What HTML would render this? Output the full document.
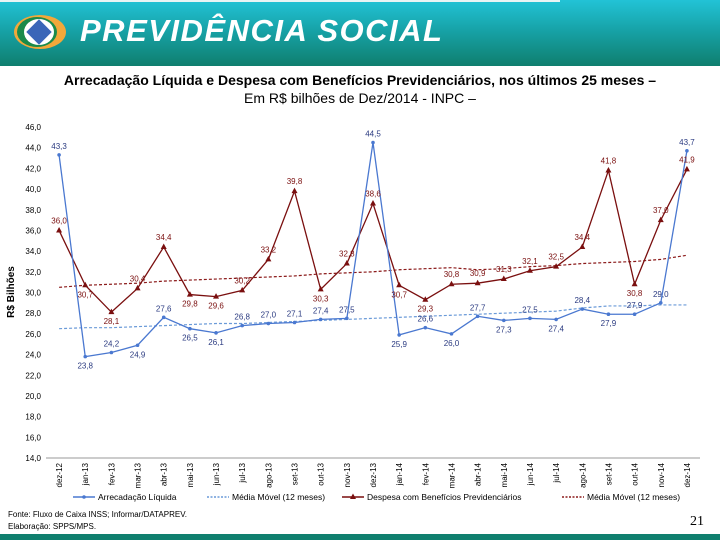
<!DOCTYPE html>
<html><head><meta charset="utf-8"><style>
body{margin:0;width:720px;height:540px;overflow:hidden;background:#fff;font-family:"Liberation Sans",sans-serif;position:relative}
#hdr{position:absolute;left:0;top:0;width:720px;height:66px;background:linear-gradient(#22c3d6 0%,#17a3a8 45%,#0f7f6e 100%)}
#topline{position:absolute;left:0;top:0;width:560px;height:2px;background:#e8f4f4}
#brand{position:absolute;left:80px;top:13px;color:#fff;font-weight:bold;font-style:italic;font-size:31px;letter-spacing:1.5px}
#t1{position:absolute;left:0;width:720px;top:72px;text-align:center;font-size:14px;font-weight:bold;color:#000}
#t2{position:absolute;left:0;width:720px;top:90px;text-align:center;font-size:14px;color:#000}
#foot{position:absolute;left:8px;top:509px;font-size:8px;line-height:12px;color:#000}
#pg{position:absolute;left:690px;top:514px;font-family:"Liberation Serif",serif;font-size:14px}
#bot{position:absolute;left:0;top:534px;width:720px;height:6px;background:#0f7f6e}
</style></head><body>
<div id="hdr"></div>
<div id="topline"></div>
<svg style="position:absolute;left:12px;top:12px" width="62" height="40">
<ellipse cx="28" cy="20" rx="26" ry="17" fill="#f2a83a"/><ellipse cx="25" cy="20" rx="20" ry="15" fill="#1a8a4a"/><ellipse cx="27" cy="20" rx="15" ry="13" fill="#fff"/><rect x="18" y="11" width="18" height="18" fill="#3a66b8" transform="rotate(45 27 20)"/></svg>
<div id="brand">PREVIDÊNCIA SOCIAL</div>
<div id="t1">Arrecadação Líquida e Despesa com Benefícios Previdenciários, nos últimos 25 meses –</div>
<div id="t2">Em R$ bilhões de Dez/2014 - INPC –</div>
<svg id="chart" style="position:absolute;left:0;top:0" width="720" height="540"></svg>
<div id="foot">Fonte: Fluxo de Caixa INSS; Informar/DATAPREV.<br>Elaboração: SPPS/MPS.</div>
<div id="pg">21</div>
<div id="bot"></div>
<script>
const categories=["dez-12","jan-13","fev-13","mar-13","abr-13","mai-13","jun-13","jul-13","ago-13","set-13","out-13","nov-13","dez-13","jan-14","fev-14","mar-14","abr-14","mai-14","jun-14","jul-14","ago-14","set-14","out-14","nov-14","dez-14"];
const arrecadacao=[43.3,23.8,24.2,24.9,27.6,26.5,26.1,26.8,27.0,27.1,27.4,27.5,44.5,25.9,26.6,26.0,27.7,27.3,27.5,27.4,28.4,27.9,27.9,29.0,43.7];
const despesa=[36.0,30.7,28.1,30.4,34.4,29.8,29.6,30.2,33.2,39.8,30.3,32.8,38.6,30.7,29.3,30.8,30.9,31.3,32.1,32.5,34.4,41.8,30.8,37.0,41.9];
const mediaArrec=[26.5,26.6,26.6,26.7,26.8,26.9,27.0,27.0,27.1,27.2,27.3,27.4,27.5,27.6,27.7,27.8,27.9,28.0,28.1,28.2,28.5,28.7,28.7,28.8,28.8];
const mediaDesp=[30.5,30.7,30.8,30.9,31.1,31.2,31.3,31.4,31.5,31.6,31.8,31.9,32.0,32.2,32.3,32.4,32.2,32.3,32.5,32.6,32.8,32.9,33.0,33.2,33.6];
const yTicks=[14,16,18,20,22,24,26,28,30,32,34,36,38,40,42,44,46];
const NS="http://www.w3.org/2000/svg",svg=document.getElementById('chart');
const X0=46,X1=700,Y0=458,Y1=127,YMIN=14,YMAX=46;
const bw=(X1-X0)/categories.length;
const x=i=>X0+bw*(i+0.5);
const y=v=>Y0-(v-YMIN)/(YMAX-YMIN)*(Y0-Y1);
function mk(t,a,p){const e=document.createElementNS(NS,t);for(const k in a)e.setAttribute(k,a[k]);(p||svg).appendChild(e);return e;}
const fmt=v=>v.toFixed(1).replace('.',',');
let e=mk('line',{x1:X0,x2:X1,y1:Y0,y2:Y0,stroke:'#999'});


yTicks.forEach(t=>{let l=mk('text',{x:41,y:y(t)+3,'text-anchor':'end','font-size':8,fill:'#000','font-family':'Liberation Sans'});l.textContent=fmt(t);

});
e=mk('text',{x:0,y:0,'font-size':10,'font-weight':'bold',transform:'translate(14,292) rotate(-90)','text-anchor':'middle','font-family':'Liberation Sans'});e.textContent='R$ Bilhões';


categories.forEach((c,i)=>{let l=mk('text',{'font-size':8,'text-anchor':'end',transform:`translate(${x(i)+3},463) rotate(-90)`,'font-family':'Liberation Sans'});l.textContent=c;

});
const pts=a=>a.map((v,i)=>x(i)+','+y(v)).join(' ');
e=mk('polyline',{points:pts(mediaArrec),fill:'none',stroke:'#6a9ad8','stroke-width':1.2,'stroke-dasharray':'3,2'});


e=mk('polyline',{points:pts(mediaDesp),fill:'none',stroke:'#8b1a1a','stroke-width':1.2,'stroke-dasharray':'3,2'});


e=mk('polyline',{points:pts(despesa),fill:'none',stroke:'#7a0f0f','stroke-width':1.3});


e=mk('polyline',{points:pts(arrecadacao),fill:'none',stroke:'#4a78d0','stroke-width':1.3});


despesa.forEach((v,i)=>{const cx=x(i),cy=y(v);let m=mk('polygon',{points:`${cx},${cy-3.5} ${cx-3},${cy+2} ${cx+3},${cy+2}`,fill:'#7a0f0f'});


const up=(i==0||v>=despesa[i-1]);let l=mk('text',{x:cx,y:up?cy-7:cy+12,'text-anchor':'middle','font-size':8,fill:'#7a0f0f','font-family':'Liberation Sans'});l.textContent=fmt(v);

});
arrecadacao.forEach((v,i)=>{const cx=x(i),cy=y(v);let m=mk('circle',{cx:cx,cy:cy,r:1.8,fill:'#4a78d0'});


const up=(v>30)||(i>0&&v>=arrecadacao[i-1]&&i!=3);let l=mk('text',{x:cx,y:up?cy-6:cy+12,'text-anchor':'middle','font-size':8,fill:'#2a3a80','font-family':'Liberation Sans'});l.textContent=fmt(v);

});
const leg=[['Arrecadação Líquida','#4a78d0',0,'c',73],['Média Móvel (12 meses)','#6a9ad8',1,'',207],['Despesa com Benefícios Previdenciários','#7a0f0f',0,'t',342],['Média Móvel (12 meses)','#8b1a1a',1,'',562]];
leg.forEach(([t,c,d,m,lx])=>{let g=mk('g',{});


mk('line',{x1:lx,x2:lx+22,y1:497,y2:497,stroke:c,'stroke-width':1.5,'stroke-dasharray':d?'2,1.5':'none'},g);
if(m=='c')mk('circle',{cx:lx+11,cy:497,r:1.8,fill:c},g);
if(m=='t')mk('polygon',{points:`${lx+11},493.5 ${lx+8},499 ${lx+14},499`,fill:c},g);
let l=mk('text',{x:lx+25,y:500,'font-size':8.5,fill:'#000','font-family':'Liberation Sans'},g);l.textContent=t;});
</script>
</body></html>
